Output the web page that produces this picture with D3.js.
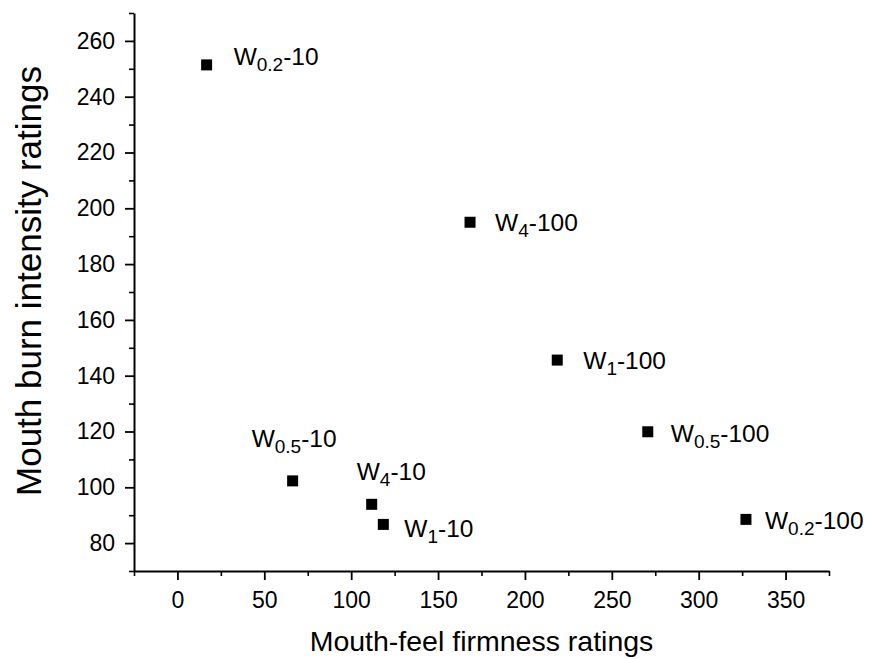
<!DOCTYPE html>
<html>
<head>
<meta charset="utf-8">
<script src="https://cdn.jsdelivr.net/npm/d3@7"></script>
<style>
  html, body { margin: 0; padding: 0; background: #fff; }
  svg { display: block; font-family: "Liberation Sans", Arial, sans-serif; }
</style>
</head>
<body>
<svg id="chart" width="869" height="659"></svg>
<script>
// ---- data ----
const sampleSub    = ["0.2", "4", "1", "0.5", "0.2", "0.5", "4", "1"];
const sampleSuffix = ["-10", "-100", "-100", "-100", "-100", "-10", "-10", "-10"];
const firmness     = [16.8, 168.4, 218.6, 270.7, 327.2, 66.3, 111.8, 118.5];
const burn         = [251.4, 195.0, 145.6, 119.9, 88.5, 102.3, 93.9, 86.7];
const xTicks = [0, 50, 100, 150, 200, 250, 300, 350];
const yTicks = [80, 100, 120, 140, 160, 180, 200, 220, 240, 260];
const xTitle = "Mouth-feel firmness ratings";
const yTitle = "Mouth burn intensity ratings";
// label placement offsets (px from point centre) - layout only
const labelDx = [27, 25, 26, 23, 19, -41, -15, 21];
const labelDy = [0, 9, 9, 10.5, 10, -34, -24, 13];

// ---- layout ----
const svg = d3.select("#chart");
const L = 134, R = 829, T = 13, B = 571;
const x = d3.scaleLinear().domain([-25, 375]).range([L, R]);
const y = d3.scaleLinear().domain([70, 270]).range([B, T]);

const xMinor = d3.range(-25, 376, 25).filter(v => !xTicks.includes(v));
const yMinor = d3.range(70, 271, 10).filter(v => !yTicks.includes(v));

// minor ticks
const gxm = svg.append("g").attr("transform", `translate(0,${B})`)
  .call(d3.axisBottom(x).tickValues(xMinor).tickSize(5).tickFormat(""));
const gym = svg.append("g").attr("transform", `translate(${L},0)`)
  .call(d3.axisLeft(y).tickValues(yMinor).tickSize(5).tickFormat(""));
[gxm, gym].forEach(g => { g.select(".domain").remove(); g.selectAll("line").attr("stroke", "#000").attr("stroke-width", 1.6); });

// major axes
const gx = svg.append("g").attr("transform", `translate(0,${B})`)
  .call(d3.axisBottom(x).tickValues(xTicks).tickSize(9).tickSizeOuter(0).tickPadding(12));
const gy = svg.append("g").attr("transform", `translate(${L},0)`)
  .call(d3.axisLeft(y).tickValues(yTicks).tickSize(9).tickSizeOuter(0).tickPadding(10));
[gx, gy].forEach(g => {
  g.select(".domain").attr("stroke", "#000").attr("stroke-width", 2);
  g.selectAll(".tick line").attr("stroke", "#000").attr("stroke-width", 1.8);
  g.selectAll(".tick text").attr("fill", "#000").style("font-size", "23px")
    .style("font-family", '"Liberation Sans", Arial, sans-serif');
});
gx.selectAll(".tick text").attr("dy", "0.7em");

// axis titles
svg.append("text").attr("x", (L + R) / 2).attr("y", 651)
  .attr("text-anchor", "middle").style("font-size", "28.5px").text(xTitle);
svg.append("text").attr("transform", `translate(41,281) rotate(-90)`)
  .attr("text-anchor", "middle").style("font-size", "35px").text(yTitle);

// points
const data = firmness.map((v, i) => ({ x: v, y: burn[i], sub: sampleSub[i], suf: sampleSuffix[i], dx: labelDx[i], dy: labelDy[i] }));
const s = 11;
svg.append("g").selectAll("rect").data(data).join("rect")
  .attr("x", d => x(d.x) - s / 2).attr("y", d => y(d.y) - s / 2)
  .attr("width", s).attr("height", s).attr("fill", "#000");

// labels
const lab = svg.append("g").selectAll("text").data(data).join("text")
  .attr("x", d => x(d.x) + d.dx).attr("y", d => y(d.y) + d.dy)
  .style("font-size", "24.5px").attr("fill", "#000");
lab.append("tspan").text("W");
lab.append("tspan").attr("dy", 6).style("font-size", "19px").text(d => d.sub);
lab.append("tspan").attr("dy", -6).text(d => d.suf);
</script>
</body>
</html>
